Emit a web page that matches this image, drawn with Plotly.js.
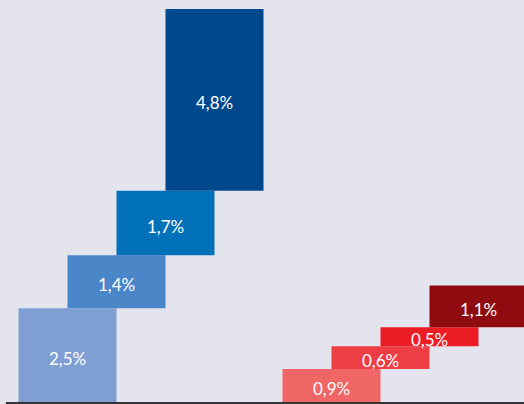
<!DOCTYPE html>
<html>
<head>
<meta charset="utf-8">
<script src="https://cdn.plot.ly/plotly-3.0.1.min.js"></script>
<style>html,body{margin:0;padding:0;background:#e4e4ee;}#chart{width:524px;height:404px;}</style>
</head>
<body>
<div id="chart"></div>
<script>
// Data
const leftCategories = ['A1', 'A2', 'A3', 'A4'];
const leftValues = [2.5, 1.4, 1.7, 4.8];
const leftColors = ['#7f9fd3', '#4a86c8', '#0070b8', '#00488c'];
const rightCategories = ['B1', 'B2', 'B3', 'B4'];
const rightValues = [0.9, 0.6, 0.5, 1.1];
const rightColors = ['#f06666', '#ee3e45', '#ec1c24', '#8e0b10'];

function fmt(v) { return v.toFixed(1).replace('.', ',') + '%'; }
function cumBase(vals) { let s = 0; return vals.map(v => { const b = s; s += v; return b; }); }

const step = 49, width = 98;
const leftStart = 67.5, rightStart = 331.5;

function makeTrace(cats, vals, colors, start) {
  return {
    type: 'bar',
    x: cats.map((c, i) => start + i * step),
    y: vals,
    base: cumBase(vals),
    width: width,
    marker: { color: colors, line: { width: 0 } },
    hoverinfo: 'none',
    showlegend: false
  };
}

function makeLabels(cats, vals, start) {
  const bases = cumBase(vals);
  return cats.map((c, i) => ({
    x: start + i * step,
    y: bases[i] + vals[i] / 2,
    xref: 'x', yref: 'y',
    text: fmt(vals[i]),
    showarrow: false,
    yshift: -3,
    font: { color: '#ffffff', size: 17, family: 'Lato, sans-serif', weight: 400 }
  }));
}

const pxPerUnit = 394 / 10.4;
const layout = {
  width: 524, height: 404,
  margin: { l: 0, r: 0, t: 0, b: 0, pad: 0 },
  paper_bgcolor: '#e4e4ee',
  plot_bgcolor: '#e4e4ee',
  barmode: 'overlay',
  xaxis: { range: [0, 524], visible: false, fixedrange: true },
  yaxis: { range: [-1 / pxPerUnit, 403 / pxPerUnit], visible: false, fixedrange: true },
  annotations: makeLabels(leftCategories, leftValues, leftStart)
    .concat(makeLabels(rightCategories, rightValues, rightStart)),
  shapes: [{
    type: 'line', xref: 'x', yref: 'y', x0: 6, x1: 524, y0: 0, y1: 0,
    line: { color: '#333333', width: 2 }
  }]
};

Plotly.newPlot('chart', [
  makeTrace(leftCategories, leftValues, leftColors, leftStart),
  makeTrace(rightCategories, rightValues, rightColors, rightStart)
], layout, { staticPlot: true, displayModeBar: false });
</script>
</body>
</html>
